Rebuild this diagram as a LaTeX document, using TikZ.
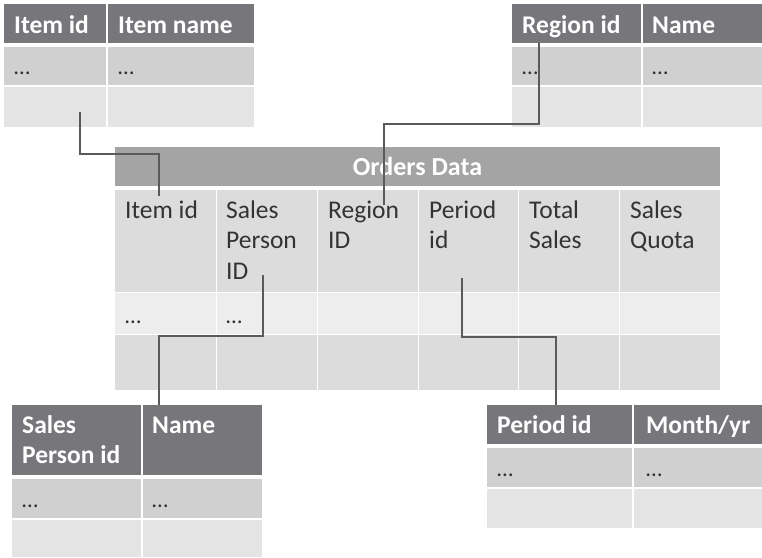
\documentclass[tikz,border=0pt]{standalone}
\usepackage{fontspec}
\setmainfont{Carlito}
\definecolor{hdr}{HTML}{77777B}
\definecolor{rowA}{HTML}{D0D0D0}
\definecolor{rowB}{HTML}{E4E4E4}
\definecolor{ohdr}{HTML}{A4A4A4}
\definecolor{ocol}{HTML}{DCDCDC}
\definecolor{orowA}{HTML}{EDEDED}
\definecolor{orowB}{HTML}{DCDCDC}
\definecolor{txt}{HTML}{333333}
\definecolor{linkc}{HTML}{5A5A5A}
\tikzset{
  cellbox/.style={draw=none, inner sep=0pt, outer sep=0pt, anchor=north west},
  htext/.style={inner sep=0pt, anchor=base west, text=white, font=\fontsize{25.5}{30}\selectfont\bfseries},
  btext/.style={inner sep=0pt, anchor=base west, text=txt, font=\fontsize{25.5}{30.5}\selectfont},
  dotstext/.style={inner sep=0pt, anchor=base west, text=txt, font=\fontsize{23}{30}\selectfont},
  linkline/.style={draw=linkc, line width=1.2pt},
}
\newcommand\cellat[6]{\node[cellbox, fill=#2, minimum width={(#5-#3)*1pt}, minimum height={(#6-#4)*1pt}] (#1) at (#3,#4) {};}
\begin{document}
\begin{tikzpicture}[x=1pt,y=-1pt]
\useasboundingbox[fill=white] (0,0) rectangle (762,557);
% ---------- top-left table (items)
\cellat{tlh1}{hdr}{4}{4}{106}{43}
\cellat{tlh2}{hdr}{107.5}{4}{254}{43}
\cellat{tla1}{rowA}{4}{47}{106}{85}
\cellat{tla2}{rowA}{107.5}{47}{254}{85}
\cellat{tlb1}{rowB}{4}{87}{106}{127}
\cellat{tlb2}{rowB}{107.5}{87}{254}{127}
\node[htext] (tlt1) at (14,33) {Item id};
\node[htext] (tlt2) at (118,33) {Item name};
\node[dotstext] (tld1) at (14,74) {…};
\node[dotstext] (tld2) at (118,74) {…};
% ---------- top-right table (regions)
\cellat{trh1}{hdr}{512}{4}{641}{43}
\cellat{trh2}{hdr}{642.5}{4}{762}{43}
\cellat{tra1}{rowA}{512}{47}{641}{85}
\cellat{tra2}{rowA}{642.5}{47}{762}{85}
\cellat{trb1}{rowB}{512}{87}{641}{127}
\cellat{trb2}{rowB}{642.5}{87}{762}{127}
\node[htext] (trt1) at (522,33) {Region id};
\node[htext] (trt2) at (652,33) {Name};
\node[dotstext] (trd1) at (522,74) {…};
\node[dotstext] (trd2) at (652,74) {…};
% ---------- orders table
\cellat{oh}{ohdr}{115}{147}{720}{186}
\node[inner sep=0pt, anchor=base, text=white, font=\fontsize{26}{30}\selectfont\bfseries] (ot) at (417.5,175) {Orders Data};
\cellat{oc1}{ocol}{115}{190}{215.5}{291.5}
\cellat{oc2}{ocol}{217}{190}{316.5}{291.5}
\cellat{oc3}{ocol}{318}{190}{417.5}{291.5}
\cellat{oc4}{ocol}{419}{190}{517.5}{291.5}
\cellat{oc5}{ocol}{519}{190}{618.5}{291.5}
\cellat{oc6}{ocol}{620}{190}{720}{291.5}
\cellat{oa1}{orowA}{115}{293}{215.5}{333.5}
\cellat{oa2}{orowA}{217}{293}{316.5}{333.5}
\cellat{oa3}{orowA}{318}{293}{417.5}{333.5}
\cellat{oa4}{orowA}{419}{293}{517.5}{333.5}
\cellat{oa5}{orowA}{519}{293}{618.5}{333.5}
\cellat{oa6}{orowA}{620}{293}{720}{333.5}
\cellat{ob1}{orowB}{115}{335}{215.5}{390}
\cellat{ob2}{orowB}{217}{335}{316.5}{390}
\cellat{ob3}{orowB}{318}{335}{417.5}{390}
\cellat{ob4}{orowB}{419}{335}{517.5}{390}
\cellat{ob5}{orowB}{519}{335}{618.5}{390}
\cellat{ob6}{orowB}{620}{335}{720}{390}
\node[btext] (ot1) at (125,218) {Item id};
\node[btext] (ot2) at (226,218) {\begin{tabular}[t]{@{}l@{}}Sales\\Person\\ID\end{tabular}};
\node[btext] (ot3) at (328,218) {\begin{tabular}[t]{@{}l@{}}Region\\ID\end{tabular}};
\node[btext] (ot4) at (429,218) {\begin{tabular}[t]{@{}l@{}}Period\\id\end{tabular}};
\node[btext] (ot5) at (529,218) {\begin{tabular}[t]{@{}l@{}}Total\\Sales\end{tabular}};
\node[btext] (ot6) at (630,218) {\begin{tabular}[t]{@{}l@{}}Sales\\Quota\end{tabular}};
\node[dotstext] (od1) at (125,323) {…};
\node[dotstext] (od2) at (226,323) {…};
% ---------- bottom-left table (sales persons)
\cellat{blh1}{hdr}{12}{405}{141}{475}
\cellat{blh2}{hdr}{142.5}{405}{262}{475}
\cellat{bla1}{rowA}{12}{479}{141}{518}
\cellat{bla2}{rowA}{142.5}{479}{262}{518}
\cellat{blb1}{rowB}{12}{520}{141}{557}
\cellat{blb2}{rowB}{142.5}{520}{262}{557}
\node[htext] (blt1) at (22,433) {\begin{tabular}[t]{@{}l@{}}Sales\\Person id\end{tabular}};
\node[htext] (blt2) at (152,433) {Name};
\node[dotstext] (bld1) at (22,507) {…};
\node[dotstext] (bld2) at (152,507) {…};
% ---------- bottom-right table (periods)
\cellat{brh1}{hdr}{487}{405}{632}{444}
\cellat{brh2}{hdr}{633.5}{405}{762}{444}
\cellat{bra1}{rowA}{487}{448}{632}{487}
\cellat{bra2}{rowA}{633.5}{448}{762}{487}
\cellat{brb1}{rowB}{487}{489}{632}{528}
\cellat{brb2}{rowB}{633.5}{489}{762}{528}
\node[htext] (brt1) at (497,433) {Period id};
\node[htext] (brt2) at (646,433) {Month/yr};
\node[dotstext] (brd1) at (497,476) {…};
\node[dotstext] (brd2) at (646,476) {…};
% ---------- connectors
\coordinate (ci1) at (80,112);
\coordinate (ci2) at (159,196);
\coordinate (cr1) at (539,43);
\coordinate (cr2) at (384,205);
\coordinate (cs1) at (263,275);
\coordinate (cs2) at (159,405);
\coordinate (cp1) at (462,278);
\coordinate (cp2) at (556,405);
\draw[linkline] (ci1) -- (80,154) -| (ci2);
\draw[linkline] (cr1) -- (539,124) -| (cr2);
\draw[linkline] (cs1) -- (263,336) -| (cs2);
\draw[linkline] (cp1) -- (462,337) -| (cp2);
\end{tikzpicture}
\end{document}
